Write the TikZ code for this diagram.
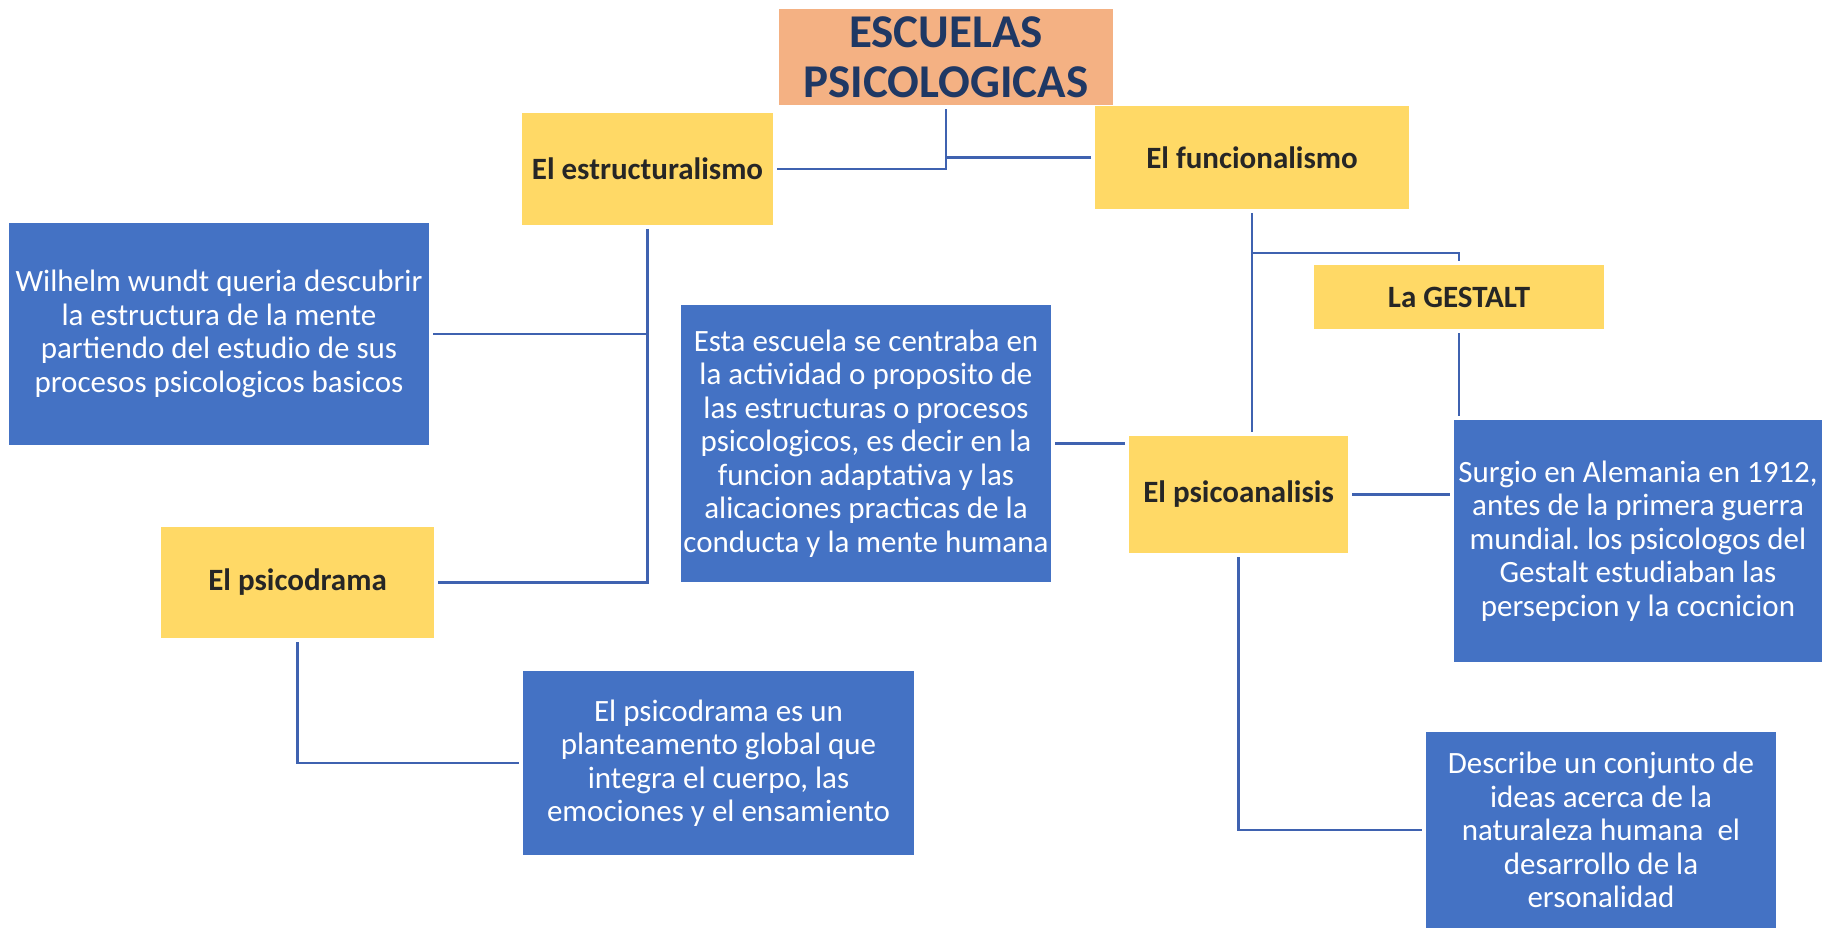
\documentclass[tikz,border=0pt]{standalone}
\usepackage{fontspec}
\setmainfont{Carlito}
\usetikzlibrary{positioning}
\definecolor{amarillo}{HTML}{FFD966}
\definecolor{azul}{HTML}{4472C4}
\definecolor{salmon}{HTML}{F4B183}
\definecolor{marino}{HTML}{1F3864}
\definecolor{linea}{HTML}{3F62B0}
\newcommand{\letraTitulo}{\fontsize{47}{50}\selectfont\bfseries}
\newcommand{\letraEscuela}{\fontsize{31}{34}\selectfont\bfseries}
\newcommand{\letraTexto}{\fontsize{31}{33.5}\selectfont}
\frenchspacing

\begin{document}
\begin{tikzpicture}[x=1pt,y=-1pt,align=center,
every node/.style={inner sep=0pt,outer sep=4pt},
titulo/.style={fill=salmon,text=marino,font=\letraTitulo},
escuela/.style={fill=amarillo,text=black!85,font=\letraEscuela},
texto/.style={fill=azul,text=white,font=\letraTexto},
enlace/.style={draw=linea,line width=2.5pt}
]
\useasboundingbox (0,0) rectangle (1831,928);
\node[titulo,minimum width=334pt,minimum height=96pt](titulo) at (946,57){ESCUELAS\\PSICOLOGICAS};
%--
\node[escuela,minimum width=251pt,minimum height=112pt](estruc) at (647.5,169){El estructuralismo};
\node[escuela,minimum width=314pt,minimum height=103pt](funcion) at (1252,157.5){El funcionalismo};
\draw[enlace] (estruc.east) -| (titulo.south);
\draw[enlace] (funcion.west) -- (titulo.south |- funcion.west);
%--
\node[texto,minimum width=420pt,minimum height=222pt](wundt) at (219,334){Wilhelm wundt queria descubrir\\la estructura de la mente\\partiendo del estudio de sus\\procesos psicologicos basicos};
\node[escuela,minimum width=273pt,minimum height=111pt](psicodrama) at (297.5,582.5){El psicodrama};
\draw[enlace] (estruc.south) |- (psicodrama.east);
\draw[enlace] (wundt.east) -- (estruc.south |- wundt.east);
%--
\node[texto,minimum width=391pt,minimum height=184pt](drama) at (718.5,763){El psicodrama es un\\planteamento global que\\integra el cuerpo, las\\emociones y el ensamiento};
\draw[enlace] (psicodrama.south) |- (drama.west);
%--
\node[escuela,minimum width=290pt,minimum height=64pt](gestalt) at (1459,297){La GESTALT};
\node[escuela,minimum width=219pt,minimum height=117pt](psicoan) at (1238.5,494.5){El psicoanalisis};
\draw[enlace] (funcion.south) -- (funcion.south |- psicoan.north);
\draw[enlace] ([yshift=-40pt]funcion.south) -| (gestalt.north);
%--
\node[texto,minimum width=370pt,minimum height=277pt](escuela) at (866,443.5){Esta escuela se centraba en\\la actividad o proposito de\\las estructuras o procesos\\psicologicos, es decir en la\\funcion adaptativa y las\\alicaciones practicas de la\\conducta y la mente humana};
\draw[enlace] (escuela.east) -- (escuela.east -| psicoan.west);
%--
\node[texto,minimum width=368pt,minimum height=242pt](surgio) at (1638,541){Surgio en Alemania en 1912,\\antes de la primera guerra\\mundial. los psicologos del\\Gestalt estudiaban las\\persepcion y la cocnicion};
\draw[enlace] (gestalt.south) -- (gestalt.south |- surgio.north);
\draw[enlace] (psicoan.east) -- (psicoan.east -| surgio.west);
%--
\node[texto,minimum width=350pt,minimum height=196pt](describe) at (1601,830){Describe un conjunto de\\ideas acerca de la\\naturaleza humana\ \ el\\desarrollo de la\\ersonalidad};
\draw[enlace] (psicoan.south) |- (describe.west);
\end{tikzpicture}
\end{document}
